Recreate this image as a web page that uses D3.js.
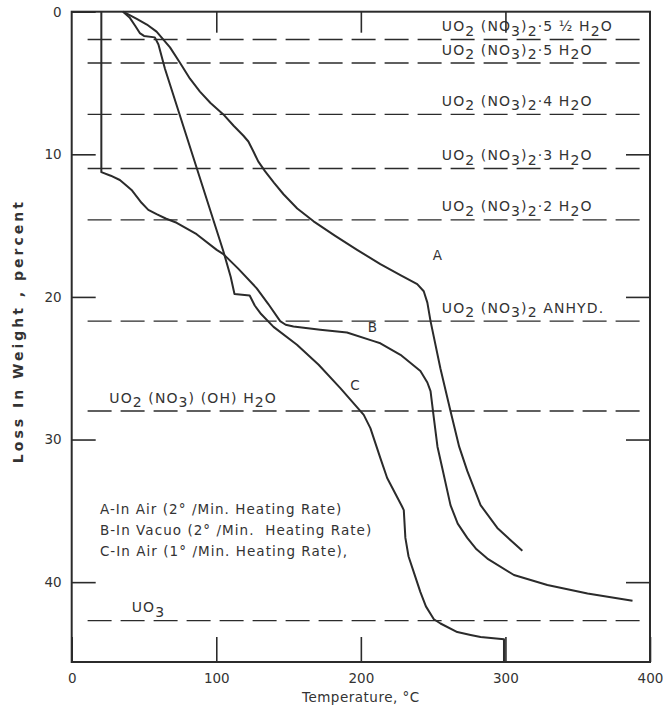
<!DOCTYPE html>
<html>
<head>
<meta charset="utf-8">
<script src="https://cdn.jsdelivr.net/npm/d3@7"></script>
<style>
  html, body { margin: 0; padding: 0; background: #fff; }
  svg { display: block; }
  text { font-family: "DejaVu Sans", sans-serif; fill: #333; }
  .legend text { white-space: pre; }
</style>
</head>
<body>
<svg id="chart" width="663" height="713"></svg>
<script>
// Thermogravimetric decomposition of uranyl nitrate hexahydrate
// Temperature (°C) vs. loss in weight (percent)

const curveA = [
  [35.5, 0], [45, 0.5], [52, 0.9], [58.7, 1.4], [68, 2.5], [75, 3.6], [81.8, 4.7],
  [88.7, 5.6], [96, 6.4], [104.9, 7.2], [112, 8.0], [118.8, 8.7], [122.2, 9.1],
  [125.7, 9.8], [129, 10.5], [133.8, 11.2], [140, 12.0], [146.5, 12.8], [156, 13.8],
  [167.3, 14.7], [182, 15.7], [197.4, 16.7], [213.5, 17.7], [228, 18.5], [239, 19.1],
  [243.5, 19.6], [246, 20.4], [248.2, 21.7], [255, 25], [262, 28.0], [268, 30.5],
  [273.6, 32.2], [282.8, 34.6], [294.4, 36.2], [304, 37.1], [311.7, 37.8]
];

const curveB = [
  [20.5, 0], [20.5, 11.25], [27, 11.5], [33.3, 11.8], [38, 12.2], [41.4, 12.5],
  [48.3, 13.4], [53, 13.9], [58.7, 14.2], [65, 14.5], [72.6, 14.8], [86.4, 15.6],
  [100.3, 16.7], [104.9, 17.0], [115, 18.0], [128, 19.4], [136, 20.5], [144.2, 21.7],
  [148, 21.95], [153.4, 22.07], [171.9, 22.3], [190.4, 22.5], [208.9, 23.1],
  [213.5, 23.25], [227.4, 24.06], [241.2, 25.2], [246, 26.0], [248.2, 26.6],
  [250.5, 28.5], [253, 30.5], [256.3, 32.0], [262, 34.6], [267, 35.9], [273.6, 36.9],
  [280, 37.7], [287.5, 38.35], [305.9, 39.5], [329, 40.2], [356.8, 40.8], [387.9, 41.3]
];

const curveC = [
  [35.5, 0], [40, 0.4], [44, 1.0], [47.1, 1.5], [50, 1.7], [57.5, 1.8], [60, 2.3],
  [64.5, 4.0], [104.9, 16.8], [110, 18.6], [112.6, 19.8], [123.1, 19.9], [126.6, 20.6],
  [131, 21.2], [139.6, 22.1], [155.8, 23.35], [170.8, 24.76], [185.8, 26.4],
  [202, 28.27], [206.6, 29.2], [213.5, 31.3], [218.2, 32.7], [228.5, 34.7],
  [229.7, 34.95], [230.8, 36.9], [233, 38.2], [236.6, 39.3], [241.2, 40.7],
  [245, 41.7], [250.5, 42.6], [255.1, 42.9], [266.7, 43.5], [275.9, 43.7],
  [282.8, 43.85], [299, 44.0], [299, 45.6]
];

const curveNames = ["A", "B", "C"];
// where each curve letter sits: [temperature, loss]
const curveLetterAt = [[253, 17.4], [208, 22.45], [196, 26.5]];

// theoretical composition levels (loss in weight, percent); "_n" marks a subscript
const levelValues = [1.95, 3.6, 7.2, 11.0, 14.6, 21.7, 28.0, 42.7];
const levelLabels = [
  "UO_2 (NO_3)_2·5 ½ H_2O",
  "UO_2 (NO_3)_2·5 H_2O",
  "UO_2 (NO_3)_2·4 H_2O",
  "UO_2 (NO_3)_2·3 H_2O",
  "UO_2 (NO_3)_2·2 H_2O",
  "UO_2 (NO_3)_2 ANHYD.",
  "UO_2 (NO_3) (OH) H_2O",
  "UO_3"
];
// temperature where each level label begins
const levelLabelStart = [256, 256, 256, 256, 256, 256, 26, 41.5];

const legendLines = [
  "A-In Air (2° /Min. Heating Rate)",
  "B-In Vacuo (2° /Min.  Heating Rate)",
  "C-In Air (1° /Min. Heating Rate),"
];

const xTicks = [0, 100, 200, 300, 400];
const yTicks = [0, 10, 20, 30, 40];

const svg = d3.select("#chart");
const ink = "#2b2b2b";

const plotLeft = 71.7, plotRight = 650, plotTop = 11.7, plotBottom = 662;
const x = d3.scaleLinear().domain([0, 400]).range([plotLeft, plotRight]);
const y = d3.scaleLinear().domain([0, 45.6]).range([plotTop, plotBottom]);

// dashed composition levels
svg.append("g")
  .selectAll("line")
  .data(levelValues)
  .join("line")
  .attr("x1", x(11)).attr("x2", x(395))
  .attr("y1", d => y(d)).attr("y2", d => y(d))
  .attr("stroke", ink)
  .attr("stroke-width", 1.4)
  .attr("stroke-dasharray", "24,9");

// level labels with subscripts
const labelG = svg.append("g").attr("font-size", 14).attr("letter-spacing", 1.1);
levelLabels.forEach((lab, i) => {
  const t = labelG.append("text")
    .attr("x", x(levelLabelStart[i]))
    .attr("y", y(levelValues[i]) - 8.5);
  const parts = lab.split(/_(\d)/);
  parts.forEach((p, k) => {
    if (!p) return;
    const isSub = k % 2 === 1;
    const prevSub = k % 2 === 0 && k > 0;
    const ts = t.append("tspan").text(p);
    if (isSub) ts.attr("dy", 4.5);
    else if (prevSub) ts.attr("dy", -4.5);
  });
});

// axes: inward ticks on all four sides
const gx = svg.append("g").attr("transform", `translate(0,${plotBottom})`)
  .call(d3.axisBottom(x).tickValues(xTicks).tickSizeInner(-25).tickSizeOuter(0).tickPadding(11));
const gy = svg.append("g").attr("transform", `translate(${plotLeft},0)`)
  .call(d3.axisLeft(y).tickValues(yTicks).tickSizeInner(-24).tickSizeOuter(0).tickPadding(10));
const gt = svg.append("g").attr("transform", `translate(0,${plotTop})`)
  .call(d3.axisTop(x).tickValues(xTicks.slice(1, -1)).tickSizeInner(-21).tickSizeOuter(0).tickFormat(""));
const gr = svg.append("g").attr("transform", `translate(${plotRight},0)`)
  .call(d3.axisRight(y).tickValues(yTicks.slice(1)).tickSizeInner(-24).tickSizeOuter(0).tickFormat(""));

[gx, gy, gt, gr].forEach(g => {
  g.select(".domain").remove();
  g.selectAll(".tick line").attr("stroke", ink).attr("stroke-width", 1.6);
  g.selectAll(".tick text")
    .attr("font-family", "DejaVu Sans, sans-serif")
    .attr("font-size", 13.5)
    .attr("fill", "#333");
});

// frame
svg.append("rect")
  .attr("x", plotLeft).attr("y", plotTop)
  .attr("width", plotRight - plotLeft).attr("height", plotBottom - plotTop)
  .attr("fill", "none").attr("stroke", ink).attr("stroke-width", 2);

// curves
const line = d3.line().x(d => x(d[0])).y(d => y(d[1])).curve(d3.curveLinear);
svg.append("g")
  .selectAll("path")
  .data([curveA, curveB, curveC])
  .join("path")
  .attr("d", line)
  .attr("fill", "none")
  .attr("stroke", ink)
  .attr("stroke-width", 2)
  .attr("stroke-linejoin", "round");

// curve letters
svg.append("g").attr("font-size", 13.5)
  .selectAll("text")
  .data(curveNames)
  .join("text")
  .attr("x", (d, i) => x(curveLetterAt[i][0]))
  .attr("y", (d, i) => y(curveLetterAt[i][1]))
  .attr("text-anchor", "middle")
  .text(d => d);

// legend
svg.append("g").attr("class", "legend").attr("font-size", 13.5).attr("letter-spacing", 1.05)
  .selectAll("text")
  .data(legendLines)
  .join("text")
  .attr("x", x(19.5))
  .attr("y", (d, i) => y(35.2) + i * 21)
  .text(d => d);

// axis titles
svg.append("text")
  .attr("x", (plotLeft + plotRight) / 2)
  .attr("y", 702)
  .attr("text-anchor", "middle")
  .attr("font-size", 13.5)
  .attr("letter-spacing", 0.5)
  .text("Temperature, °C");

svg.append("text")
  .attr("transform", `translate(23,${y(22.4)}) rotate(-90)`)
  .attr("text-anchor", "middle")
  .attr("font-size", 14)
  .attr("font-weight", "bold")
  .attr("letter-spacing", 3)
  .text("Loss In Weight , percent");
</script>
</body>
</html>
